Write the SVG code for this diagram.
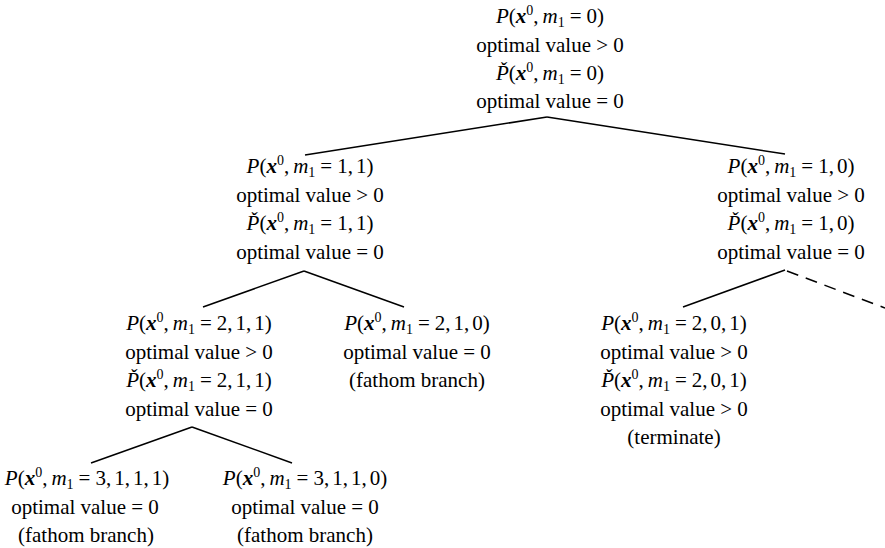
<svg xmlns="http://www.w3.org/2000/svg" width="885" height="548" viewBox="0 0 885 548">
<style>
text{font-family:'Liberation Serif',serif;font-size:21px;text-anchor:middle;fill:#000}
.i{font-style:italic}
.b{font-style:italic;font-weight:bold}
.s{font-size:14px}
.e{stroke:#000;stroke-width:1.5;fill:none}
.d{stroke-dasharray:12 8}
</style>
<rect width="885" height="548" fill="#fff"/>
<g id="connectors">
<line class="e" x1="547" y1="117" x2="305" y2="155"/>
<line class="e" x1="547" y1="117" x2="785" y2="154"/>
<line class="e" x1="304" y1="271" x2="203" y2="307"/>
<line class="e" x1="304" y1="271" x2="404" y2="307"/>
<line class="e" x1="785" y1="270" x2="683" y2="307"/>
<line class="e d" x1="787" y1="271" x2="885" y2="308"/>
<line class="e" x1="192" y1="427" x2="91" y2="463"/>
<line class="e" x1="192" y1="427" x2="292" y2="463"/>
</g>
<g id="n0" font-family="Liberation Serif">
<text x="550" y="23"><tspan class="i">P</tspan>(<tspan class="b">x</tspan><tspan class="s" dy="-8">0</tspan><tspan dy="8">,</tspan><tspan class="i" dx="4">m</tspan><tspan class="s" dy="4">1</tspan><tspan dy="-4" dx="5">=</tspan><tspan dx="5">0)</tspan></text>
<text x="550" y="52">optimal value &gt; 0</text>
<text x="550" y="80"><tspan class="i">P̌</tspan>(<tspan class="b">x</tspan><tspan class="s" dy="-8">0</tspan><tspan dy="8">,</tspan><tspan class="i" dx="4">m</tspan><tspan class="s" dy="4">1</tspan><tspan dy="-4" dx="5">=</tspan><tspan dx="5">0)</tspan></text>
<text x="550" y="108">optimal value = 0</text>
</g>
<g id="n11" font-family="Liberation Serif">
<text x="310" y="173"><tspan class="i">P</tspan>(<tspan class="b">x</tspan><tspan class="s" dy="-8">0</tspan><tspan dy="8">,</tspan><tspan class="i" dx="4">m</tspan><tspan class="s" dy="4">1</tspan><tspan dy="-4" dx="5">=</tspan><tspan dx="5">1,</tspan><tspan dx="3">1)</tspan></text>
<text x="310" y="202">optimal value &gt; 0</text>
<text x="310" y="230"><tspan class="i">P̌</tspan>(<tspan class="b">x</tspan><tspan class="s" dy="-8">0</tspan><tspan dy="8">,</tspan><tspan class="i" dx="4">m</tspan><tspan class="s" dy="4">1</tspan><tspan dy="-4" dx="5">=</tspan><tspan dx="5">1,</tspan><tspan dx="3">1)</tspan></text>
<text x="310" y="259">optimal value = 0</text>
</g>
<g id="n10" font-family="Liberation Serif">
<text x="791" y="173"><tspan class="i">P</tspan>(<tspan class="b">x</tspan><tspan class="s" dy="-8">0</tspan><tspan dy="8">,</tspan><tspan class="i" dx="4">m</tspan><tspan class="s" dy="4">1</tspan><tspan dy="-4" dx="5">=</tspan><tspan dx="5">1,</tspan><tspan dx="3">0)</tspan></text>
<text x="791" y="202">optimal value &gt; 0</text>
<text x="791" y="230"><tspan class="i">P̌</tspan>(<tspan class="b">x</tspan><tspan class="s" dy="-8">0</tspan><tspan dy="8">,</tspan><tspan class="i" dx="4">m</tspan><tspan class="s" dy="4">1</tspan><tspan dy="-4" dx="5">=</tspan><tspan dx="5">1,</tspan><tspan dx="3">0)</tspan></text>
<text x="791" y="259">optimal value = 0</text>
</g>
<g id="n211" font-family="Liberation Serif">
<text x="199" y="330"><tspan class="i">P</tspan>(<tspan class="b">x</tspan><tspan class="s" dy="-8">0</tspan><tspan dy="8">,</tspan><tspan class="i" dx="4">m</tspan><tspan class="s" dy="4">1</tspan><tspan dy="-4" dx="5">=</tspan><tspan dx="5">2,</tspan><tspan dx="3">1,</tspan><tspan dx="3">1)</tspan></text>
<text x="199" y="359">optimal value &gt; 0</text>
<text x="199" y="387"><tspan class="i">P̌</tspan>(<tspan class="b">x</tspan><tspan class="s" dy="-8">0</tspan><tspan dy="8">,</tspan><tspan class="i" dx="4">m</tspan><tspan class="s" dy="4">1</tspan><tspan dy="-4" dx="5">=</tspan><tspan dx="5">2,</tspan><tspan dx="3">1,</tspan><tspan dx="3">1)</tspan></text>
<text x="199" y="416">optimal value = 0</text>
</g>
<g id="n210" font-family="Liberation Serif">
<text x="417" y="330"><tspan class="i">P</tspan>(<tspan class="b">x</tspan><tspan class="s" dy="-8">0</tspan><tspan dy="8">,</tspan><tspan class="i" dx="4">m</tspan><tspan class="s" dy="4">1</tspan><tspan dy="-4" dx="5">=</tspan><tspan dx="5">2,</tspan><tspan dx="3">1,</tspan><tspan dx="3">0)</tspan></text>
<text x="417" y="359">optimal value = 0</text>
<text x="417" y="387">(fathom branch)</text>
</g>
<g id="n201" font-family="Liberation Serif">
<text x="674" y="330"><tspan class="i">P</tspan>(<tspan class="b">x</tspan><tspan class="s" dy="-8">0</tspan><tspan dy="8">,</tspan><tspan class="i" dx="4">m</tspan><tspan class="s" dy="4">1</tspan><tspan dy="-4" dx="5">=</tspan><tspan dx="5">2,</tspan><tspan dx="3">0,</tspan><tspan dx="3">1)</tspan></text>
<text x="674" y="359">optimal value &gt; 0</text>
<text x="674" y="387"><tspan class="i">P̌</tspan>(<tspan class="b">x</tspan><tspan class="s" dy="-8">0</tspan><tspan dy="8">,</tspan><tspan class="i" dx="4">m</tspan><tspan class="s" dy="4">1</tspan><tspan dy="-4" dx="5">=</tspan><tspan dx="5">2,</tspan><tspan dx="3">0,</tspan><tspan dx="3">1)</tspan></text>
<text x="674" y="416">optimal value &gt; 0</text>
<text x="674" y="444">(terminate)</text>
</g>
<g id="n3111" font-family="Liberation Serif">
<text x="87" y="485"><tspan class="i">P</tspan>(<tspan class="b">x</tspan><tspan class="s" dy="-8">0</tspan><tspan dy="8">,</tspan><tspan class="i" dx="4">m</tspan><tspan class="s" dy="4">1</tspan><tspan dy="-4" dx="5">=</tspan><tspan dx="5">3,</tspan><tspan dx="3">1,</tspan><tspan dx="3">1,</tspan><tspan dx="3">1)</tspan></text>
<text x="85" y="514">optimal value = 0</text>
<text x="86" y="542">(fathom branch)</text>
</g>
<g id="n3110" font-family="Liberation Serif">
<text x="305" y="485"><tspan class="i">P</tspan>(<tspan class="b">x</tspan><tspan class="s" dy="-8">0</tspan><tspan dy="8">,</tspan><tspan class="i" dx="4">m</tspan><tspan class="s" dy="4">1</tspan><tspan dy="-4" dx="5">=</tspan><tspan dx="5">3,</tspan><tspan dx="3">1,</tspan><tspan dx="3">1,</tspan><tspan dx="3">0)</tspan></text>
<text x="305" y="514">optimal value = 0</text>
<text x="305" y="542">(fathom branch)</text>
</g>
</svg>
